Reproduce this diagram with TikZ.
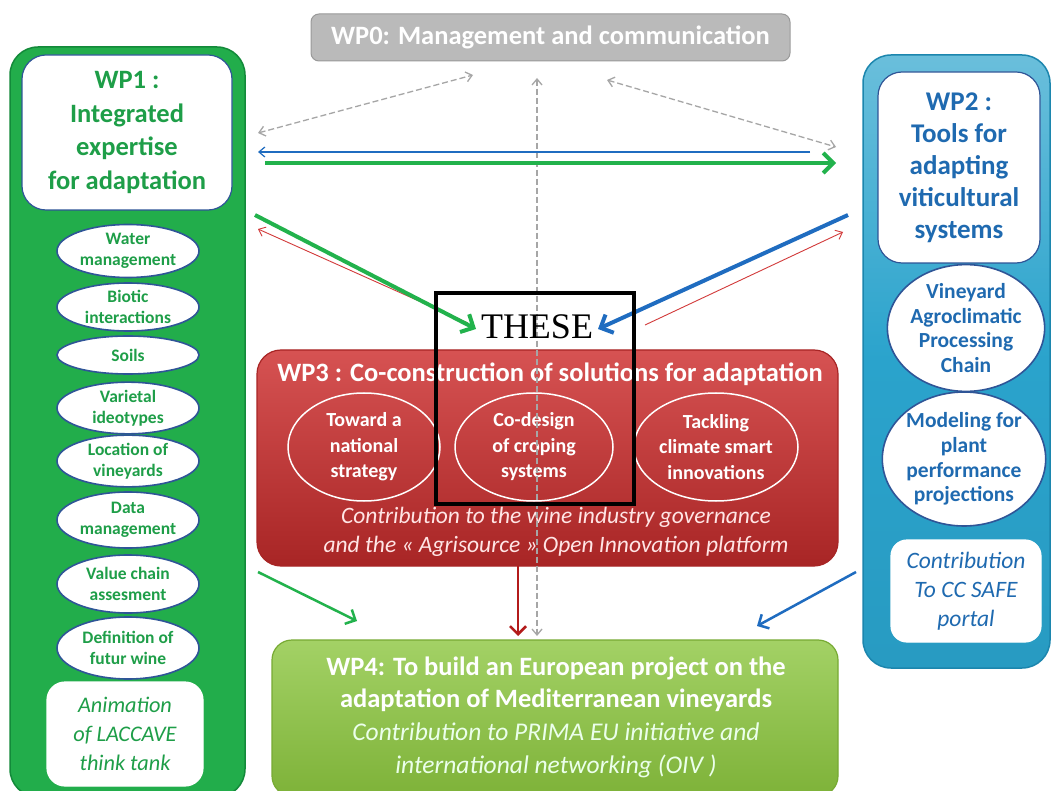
\documentclass[tikz,border=0pt]{standalone}
\usepackage{fontspec}
\setmainfont{Carlito}
\newfontfamily\thesefont{Liberation Serif}
\usetikzlibrary{arrows.meta,shapes.geometric}
\definecolor{wpgreen}{HTML}{22AD4B}
\definecolor{wpgreend}{HTML}{138A3A}
\definecolor{txtgreen}{HTML}{1E9E48}
\definecolor{elborder}{HTML}{2F5597}
\definecolor{wpblue}{HTML}{2AA3CC}
\definecolor{wpblued}{HTML}{1C86AE}
\definecolor{txtblue}{HTML}{1F6AB0}
\definecolor{wpred}{HTML}{CF3434}
\definecolor{wpredd}{HTML}{A82525}
\definecolor{wplime}{HTML}{8CC63F}
\definecolor{wplimed}{HTML}{77AA33}
\definecolor{wpgray}{HTML}{A9A9A9}
\definecolor{arrgray}{HTML}{A6A6A6}
\definecolor{arrblue}{HTML}{1F6CC0}
\definecolor{arrgreen}{HTML}{22B24C}
\definecolor{arrred}{HTML}{D23A3A}
\definecolor{arrdred}{HTML}{B31B1B}
\begin{document}
\begin{tikzpicture}[x=1pt,y=-1pt,
  outerbox/.style={rounded corners=28pt, line width=1.5pt},
  innerbox/.style={draw=elborder, fill=white, rounded corners=24pt, line width=1.2pt, align=center},
  wpone/.style={ellipse, draw=elborder, fill=white, line width=1.6pt, inner sep=0pt,
     minimum width=142pt, align=center, text=txtgreen, font=\fontsize{17.5}{21.5}\selectfont\bfseries},
  wptwo/.style={ellipse, draw=elborder, fill=white, line width=1.6pt, inner sep=0pt,
     align=center, text=txtblue, font=\fontsize{21.5}{24.8}\selectfont\bfseries},
  wpthree/.style={ellipse, draw=white, line width=1.5pt, inner sep=0pt,
     minimum width=152pt, minimum height=108pt, align=center, text=white, font=\fontsize{20}{25.5}\selectfont\bfseries},
  grayarr/.style={draw=arrgray, dashed, line width=1.3pt, dash pattern=on 6pt off 3pt, {Straight Barb[length=6pt,width=10pt]}-{Straight Barb[length=6pt,width=10pt]}},
  thinarr/.style={line width=1.2pt, -{Straight Barb[length=6pt,width=10pt]}},
  thickarr/.style={line width=4pt, -{Straight Barb[length=10pt,width=20pt]}},
  midarr/.style={line width=2.5pt, -{Straight Barb[length=8pt,width=16pt]}}
]
\useasboundingbox (0,0) rectangle (1052,791);
\fill[white] (0,0) rectangle (1052,791);

% WP0
\node[draw=gray!80, top color=wpgray!80, bottom color=wpgray!110!black, rounded corners=8pt, line width=1pt,
  minimum width=479pt, minimum height=47pt, text=white, font=\fontsize{26.5}{30}\selectfont\bfseries]
  (wp0) at (550.5,37.5) {WP0: Management and communication};

% WP1 column
\node[outerbox, draw=wpgreend, fill=wpgreen, minimum width=235pt, minimum height=750pt] (wp1) at (127.5,422) {};
\node[innerbox, minimum width=210pt, minimum height=155pt, text=txtgreen,
  font=\fontsize{26.5}{33.5}\selectfont\bfseries] (wp1t) at (127,132.5) {WP1 :\\Integrated\\expertise\\for adaptation};
\node[wpone, minimum height=53pt] (e1) at (128,251) {Water\\management};
\node[wpone, minimum height=47pt] (e2) at (128,307) {Biotic\\interactions};
\node[wpone, minimum height=38pt] (e3) at (128,355) {Soils};
\node[wpone, minimum height=50pt] (e4) at (128,408) {Varietal\\ideotypes};
\node[wpone, minimum height=50pt] (e5) at (128,461) {Location of\\vineyards};
\node[wpone, minimum height=56pt] (e6) at (128,520) {Data\\management};
\node[wpone, minimum height=58pt] (e7) at (128,584) {Value chain\\assesment};
\node[wpone, minimum height=62pt] (e8) at (128,648) {Definition of\\futur wine};
\node[innerbox, draw=white, rounded corners=18pt, minimum width=156pt, minimum height=104pt, text=txtgreen,
  font=\fontsize{22.3}{29}\selectfont\itshape] (anim) at (125,734) {Animation\\of LACCAVE\\think tank};

% WP2 column
\node[outerbox, draw=wpblued, top color=wpblue!70, bottom color=wpblue!95!black, middle color=wpblue,
  minimum width=187pt, minimum height=613pt] (wp2) at (956.5,361.5) {};
\node[innerbox, minimum width=162pt, minimum height=191pt, text=txtblue,
  font=\fontsize{27}{32}\selectfont\bfseries] (wp2t) at (959,167.5) {WP2 :\\Tools for\\adapting\\viticultural\\systems};
\node[wptwo, minimum width=152pt, minimum height=122pt] (v1) at (966,328) {Vineyard\\Agroclimatic\\Processing\\Chain};
\node[wptwo, minimum width=154pt, minimum height=134pt] (v2) at (964,459) {Modeling for\\plant\\performance\\projections};
\node[innerbox, draw=white, rounded corners=16pt, minimum width=150pt, minimum height=102pt, text=txtblue,
  font=\fontsize{23.5}{29}\selectfont\itshape] (cc) at (966,591) {Contribution\\To CC SAFE\\portal};

% WP3
\node[draw=wpredd, top color=wpred!85, bottom color=wpredd, rounded corners=24pt, line width=1.2pt,
  minimum width=581pt, minimum height=216pt] (wp3) at (547.5,458) {};
\node[text=white, font=\fontsize{26.5}{30}\selectfont\bfseries] (wp3t) at (550,374) {WP3 : Co-construction of solutions for adaptation};
\node[wpthree] (r1) at (364,447) {Toward a\\national\\strategy};
\node[wpthree, minimum width=158pt] (r2) at (534,447) {Co-design\\of croping\\systems};
\node[wpthree, minimum width=164pt] (r3) at (716,447) {Tackling\\climate smart\\innovations};
\node[text=red!10, align=center, font=\fontsize{23.5}{29}\selectfont\itshape] (wp3c) at (556,532)
  {Contribution to the wine industry governance\\and the « Agrisource » Open Innovation platform};

% WP4
\node[draw=wplimed, top color=wplime!80, bottom color=wplime!90!black, rounded corners=20pt, line width=1.2pt,
  minimum width=566pt, minimum height=156pt] (wp4) at (555,718) {};
\node[text=white, align=center, font=\fontsize{26.5}{32}\selectfont\bfseries] (wp4t) at (556,684)
  {WP4: To build an European project on the\\adaptation of Mediterranean vineyards};
\node[text=white!92!green, align=center, font=\fontsize{25.5}{33}\selectfont\itshape] (wp4c) at (556,750)
  {Contribution to PRIMA EU initiative and\\international networking (OIV )};

% Arrow end points
\coordinate (g1a) at (258,133); \coordinate (g1b) at (473,75);
\coordinate (g2a) at (607,80);  \coordinate (g2b) at (836,147);
\coordinate (g3a) at (537,78);  \coordinate (g3b) at (537,636);
\coordinate (b1a) at (810,152); \coordinate (b1b) at (258,152);
\coordinate (gr1a) at (265,163); \coordinate (gr1b) at (836,163);
\coordinate (gd1a) at (255,215); \coordinate (gd1b) at (476,329);
\coordinate (rd1a) at (468,323); \coordinate (rd1b) at (258,229);
\coordinate (bd1a) at (848,215); \coordinate (bd1b) at (598,329);
\coordinate (rd2a) at (645,325); \coordinate (rd2b) at (843,232);
\coordinate (rdna) at (518,566); \coordinate (rdnb) at (518,636);
\coordinate (gl1a) at (258,572); \coordinate (gl1b) at (357,621);
\coordinate (bl1a) at (856,572); \coordinate (bl1b) at (757,626);

\draw[grayarr] (g1a) -- (g1b);
\draw[grayarr] (g2a) -- (g2b);
\draw[grayarr] (g3a) -- (g3b);
\draw[thinarr, draw=arrblue] (b1a) -- (b1b);
\draw[thickarr, draw=arrgreen] (gr1a) -- (gr1b);
\draw[thinarr, draw=arrred, line width=0.9pt] (rd1a) -- (rd1b);
\draw[thinarr, draw=arrred, line width=0.9pt] (rd2a) -- (rd2b);
\draw[thickarr, draw=arrgreen] (gd1a) -- (gd1b);
\draw[thickarr, draw=arrblue] (bd1a) -- (bd1b);
\draw[midarr, draw=arrdred] (rdna) -- (rdnb);
\draw[midarr, draw=arrgreen] (gl1a) -- (gl1b);
\draw[midarr, draw=arrblue] (bl1a) -- (bl1b);

% THESE
\node[draw=black, line width=4pt, minimum width=198pt, minimum height=211pt] (these) at (535,398.5) {};
\node[font=\fontsize{36}{40}\thesefont, text=black] (thesel) at (537,327) {THESE};
\end{tikzpicture}
\end{document}
